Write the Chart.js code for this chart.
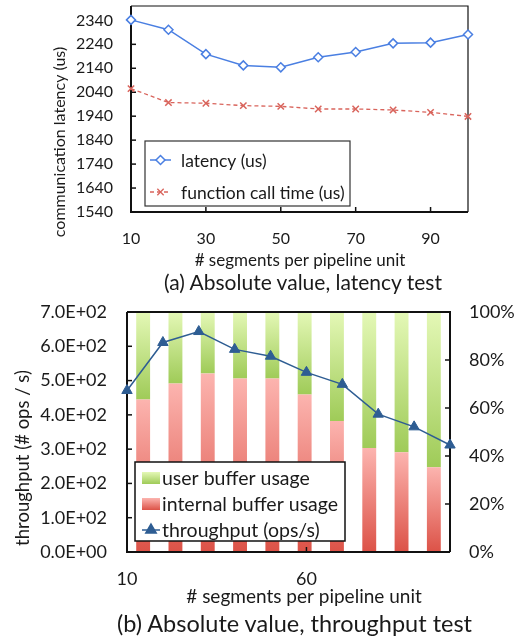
<!DOCTYPE html>
<html>
<head>
<meta charset="utf-8">
<script src="https://cdn.jsdelivr.net/npm/chart.js@4.4.1/dist/chart.umd.min.js"></script>
<style>
  body { margin: 0; width: 523px; height: 636px; position: relative; background: #fff; overflow: hidden;
         font-family: Lato, sans-serif; color: #1a1a1a; }
  .box { position: absolute; left: 0; width: 523px; }
  .cap { position: absolute; left: 0; text-align: center; white-space: nowrap; line-height: 24px; }
</style>
</head>
<body>
<div class="box" style="top:0;height:270px"><canvas id="latencyChart" width="523" height="270"></canvas></div>
<div class="cap" style="top:270px;width:606px;font-size:21px">(a) Absolute value, latency test</div>
<div class="box" style="top:292px;height:314px"><canvas id="throughputChart" width="523" height="314"></canvas></div>
<div class="cap" style="top:611px;width:589px;font-size:23.5px">(b) Absolute value, throughput test</div>

<script>
// (a) latency test
const segments = [10, 20, 30, 40, 50, 60, 70, 80, 90, 100];
const latency = [2342, 2301, 2199, 2152, 2144, 2186, 2208, 2244, 2247, 2281];
const callTime = [2055, 1997, 1994, 1984, 1981, 1970, 1970, 1966, 1956, 1939];
const latencyTicks = [1540, 1640, 1740, 1840, 1940, 2040, 2140, 2240, 2340];
const segTicksA = [10, 30, 50, 70, 90];

// (b) throughput test
const throughput = [471, 611, 643, 591, 571, 524, 489, 402, 365, 312];
const internalPct = [63.5, 70.2, 74.4, 72.3, 72.3, 65.6, 54.6, 43.3, 41.6, 35.3];
const userPct = [36.5, 29.8, 25.6, 27.7, 27.7, 34.4, 45.4, 56.7, 58.4, 64.7];
const segTicksB = [10, 60];

Chart.defaults.font.family = "Lato, sans-serif";
Chart.defaults.color = "#1a1a1a";
Chart.defaults.animation = false;

const ink = "#1a1a1a";
const green = ["#e4f8b6", "#9fcb58"];
const red = ["#fcb4af", "#dc5247"];
const noGrid = { display: false, drawTicks: false };

//turn a number into 7.0E+02 style
const sci = (v) => {
  const parts = v.toExponential(1).split("e");
  const n = Math.abs(parseInt(parts[1]));
  return parts[0] + "E" + (parts[1][0] === "-" ? "-" : "+") + String(n).padStart(2, "0");
};

const setTicks = (list) => (scale) => {
  scale.ticks = list.map((v) => ({ value: v }));
};

// fixed axis size, and no extra room for half labels
const fixSize = (size) => (s) => {
  if (s.isHorizontal()) s.height = size;
  else s.width = size;
  s.paddingTop = 0;
  s.paddingBottom = 0;
  s.paddingLeft = 0;
  s.paddingRight = 0;
};

// frame round the plot + short inward tick marks
const framePlugin = {
  id: "frame",
  beforeDatasetsDraw(chart) {
    chart.$frameDone = false;
  },
  beforeDatasetDraw(chart, args, o) {
    if (chart.$frameDone || args.meta.type !== "line") return;
    chart.$frameDone = true;
    const { ctx, chartArea: a } = chart;
    ctx.save();
    ctx.strokeStyle = o.color;
    ctx.lineWidth = o.edgeWidth;
    ctx.beginPath();
    ctx.moveTo(a.left, a.top);
    ctx.lineTo(a.right, a.top);
    ctx.lineTo(a.right, a.bottom);
    ctx.stroke();
    ctx.lineWidth = o.axisWidth;
    ctx.beginPath();
    ctx.moveTo(a.left, a.top);
    ctx.lineTo(a.left, a.bottom);
    ctx.lineTo(a.right, a.bottom);
    ctx.stroke();
    ctx.lineWidth = 1.5;
    o.ticks.forEach((id) => {
      const s = chart.scales[id];
      s.ticks.forEach((t) => {
        const p = s.getPixelForValue(t.value);
        ctx.beginPath();
        if (s.position === "left") {
          ctx.moveTo(a.left, p);
          ctx.lineTo(a.left + o.len, p);
        } else if (s.position === "right") {
          ctx.moveTo(a.right, p);
          ctx.lineTo(a.right - o.len, p);
        } else {
          ctx.moveTo(p, a.bottom);
          ctx.lineTo(p, a.bottom - o.len);
        }
        ctx.stroke();
      });
    });
    ctx.restore();
  },
};

// axis titles placed by hand
const textPlugin = {
  id: "axisText",
  afterDraw(chart, args, o) {
    const ctx = chart.ctx;
    o.items.forEach((t) => {
      ctx.save();
      ctx.font = t.font;
      ctx.fillStyle = ink;
      ctx.textAlign = "center";
      ctx.textBaseline = "middle";
      ctx.translate(t.x, t.y);
      if (t.rotate) ctx.rotate(-Math.PI / 2);
      ctx.fillText(t.text, 0, 0);
      ctx.restore();
    });
  },
};

// legend box inside the plot
const legendPlugin = {
  id: "boxLegend",
  afterDraw(chart, args, o) {
    const ctx = chart.ctx;
    ctx.save();
    ctx.fillStyle = "#fff";
    ctx.fillRect(o.x, o.y, o.w, o.h);
    ctx.strokeStyle = o.border;
    ctx.lineWidth = o.borderWidth;
    ctx.strokeRect(o.x, o.y, o.w, o.h);
    o.items.forEach((it, k) => {
      const ds = chart.data.datasets[it.index];
      const cy = o.y + o.first + k * o.gap;
      if (it.kind === "line") {
        ctx.strokeStyle = ds.borderColor;
        ctx.lineWidth = ds.borderWidth;
        ctx.setLineDash(ds.borderDash || []);
        ctx.beginPath();
        ctx.moveTo(o.x + o.s0, cy);
        ctx.lineTo(o.x + o.s1, cy);
        ctx.stroke();
        ctx.setLineDash([]);
        ctx.fillStyle = ds.pointBackgroundColor;
        ctx.strokeStyle = ds.pointBorderColor;
        Chart.helpers.drawPoint(ctx, {
          pointStyle: ds.pointStyle,
          radius: ds.pointRadius,
          borderWidth: ds.pointBorderWidth,
          rotation: 0,
        }, o.x + (o.s0 + o.s1) / 2, cy);
      } else {
        const g = ctx.createLinearGradient(0, cy - 6, 0, cy + 6);
        g.addColorStop(0, it.colors[0]);
        g.addColorStop(1, it.colors[1]);
        ctx.fillStyle = g;
        ctx.fillRect(o.x + o.s0, cy - 6, o.s1 - o.s0, 12);
      }
      ctx.fillStyle = ink;
      ctx.font = o.font;
      ctx.textBaseline = "middle";
      ctx.fillText(ds.label, o.x + o.tx, cy + 1);
    });
    ctx.restore();
  },
};

// per segment gradient for the stacked bars
const barFill = (colors, bottom) => (c) => {
  const chart = c.chart;
  const s = chart.scales.yPct;
  if (c.type !== "data" || !s) return colors[1];
  const i = c.dataIndex;
  const lo = bottom ? 0 : internalPct[i];
  const hi = bottom ? internalPct[i] : 100;
  const y0 = s.getPixelForValue(hi);
  const y1 = s.getPixelForValue(lo);
  if (!isFinite(y0) || !isFinite(y1) || y0 === y1) return colors[1];
  const g = chart.ctx.createLinearGradient(0, y0, 0, y1);
  g.addColorStop(0, colors[0]);
  g.addColorStop(1, colors[1]);
  return g;
};

new Chart("latencyChart", {
  type: "line",
  data: {
    datasets: [
      {
        label: "latency (us)",
        data: segments.map((x, i) => ({ x: x, y: latency[i] })),
        borderColor: "#4a7fe2",
        borderWidth: 1.5,
        pointStyle: "rectRot",
        pointRadius: 4.5,
        pointBackgroundColor: "#ffffff",
        pointBorderColor: "#4a7fe2",
        pointBorderWidth: 1.5,
        clip: false,
      },
      {
        label: "function call time (us)",
        data: segments.map((x, i) => ({ x: x, y: callTime[i] })),
        borderColor: "#d9645c",
        borderWidth: 1.3,
        borderDash: [4, 3],
        pointStyle: "crossRot",
        pointRadius: 4.5,
        pointBackgroundColor: "#d9645c",
        pointBorderColor: "#d9645c",
        pointBorderWidth: 1.5,
        clip: false,
      },
    ],
  },
  options: {
    responsive: false,
    layout: { padding: { left: 0, right: 55, top: 3, bottom: 0 } },
    scales: {
      x: {
        type: "linear",
        min: 10,
        max: 100,
        afterBuildTicks: setTicks(segTicksA),
        afterFit: fixSize(58),
        grid: noGrid,
        border: { display: false },
        ticks: { font: { size: 16 }, padding: 17, maxRotation: 0 },
      },
      y: {
        min: 1540,
        max: 2400,
        afterBuildTicks: setTicks(latencyTicks),
        afterFit: fixSize(131),
        grid: noGrid,
        border: { display: false },
        ticks: { font: { size: 16 }, padding: 18, callback: (v) => String(v) },
      },
    },
    plugins: {
      legend: { display: false },
      tooltip: { enabled: false },
      frame: { color: "#111", axisWidth: 2, edgeWidth: 1.2, len: 5, ticks: ["x", "y"] },
      axisText: {
        items: [
          { text: "communication latency (us)", x: 60, y: 142, rotate: true, font: "16px Lato" },
          { text: "# segments per pipeline unit", x: 300, y: 261, font: "17px Lato" },
        ],
      },
      boxLegend: {
        x: 145, y: 141, w: 205, h: 65, border: "#333", borderWidth: 1.2,
        first: 19, gap: 32, s0: 5, s1: 26, tx: 36, font: "17.5px Lato",
        items: [{ index: 0, kind: "line" }, { index: 1, kind: "line" }],
      },
    },
  },
  plugins: [framePlugin, textPlugin, legendPlugin],
});

new Chart("throughputChart", {
  data: {
    labels: segments,
    datasets: [
      {
        type: "bar",
        label: "internal buffer usage",
        data: internalPct,
        xAxisID: "xBar",
        yAxisID: "yPct",
        stack: "usage",
        grouped: false,
        backgroundColor: barFill(red, true),
        barPercentage: 0.43,
        categoryPercentage: 1,
        order: 2,
      },
      {
        type: "bar",
        label: "user buffer usage",
        data: userPct,
        xAxisID: "xBar",
        yAxisID: "yPct",
        stack: "usage",
        grouped: false,
        backgroundColor: barFill(green, false),
        barPercentage: 0.43,
        categoryPercentage: 1,
        order: 2,
      },
      {
        type: "line",
        label: "throughput (ops/s)",
        data: segments.map((x, i) => ({ x: x, y: throughput[i] })),
        xAxisID: "x",
        yAxisID: "y",
        borderColor: "#2e5d93",
        borderWidth: 1.5,
        pointStyle: "triangle",
        pointRadius: 6,
        pointBackgroundColor: "#2e5d93",
        pointBorderColor: "#2e5d93",
        pointBorderWidth: 1,
        clip: false,
        order: 1,
      },
    ],
  },
  options: {
    responsive: false,
    layout: { padding: { left: 0, right: 0, top: 20, bottom: 0 } },
    scales: {
      x: {
        type: "linear",
        position: "bottom",
        min: 10,
        max: 100,
        afterBuildTicks: setTicks(segTicksB),
        afterFit: fixSize(54),
        grid: noGrid,
        border: { display: false },
        ticks: { font: { size: 18 }, padding: 16, maxRotation: 0 },
      },
      xBar: {
        type: "category",
        display: false,
        offset: true,
        stacked: true,
        grid: noGrid,
      },
      y: {
        position: "left",
        min: 0,
        max: 700,
        ticks: { stepSize: 100, font: { size: 18 }, padding: 20, callback: (v) => sci(v) },
        afterFit: fixSize(127),
        grid: noGrid,
        border: { display: false },
      },
      yPct: {
        position: "right",
        min: 0,
        max: 100,
        stacked: true,
        ticks: { stepSize: 20, font: { size: 18 }, padding: 19, callback: (v) => v + "%" },
        afterFit: fixSize(73),
        grid: noGrid,
        border: { display: false },
      },
    },
    plugins: {
      legend: { display: false },
      tooltip: { enabled: false },
      frame: { color: "#111", axisWidth: 2, edgeWidth: 2, len: 5, ticks: ["x", "y", "yPct"] },
      axisText: {
        items: [
          { text: "throughput (# ops / s)", x: 23, y: 166, rotate: true, font: "18.5px Lato" },
          { text: "# segments per pipeline unit", x: 304, y: 305, font: "19px Lato" },
        ],
      },
      boxLegend: {
        x: 135, y: 170, w: 210, h: 79, border: "#111", borderWidth: 1.5,
        first: 16, gap: 26, s0: 7, s1: 25, tx: 27, font: "19.5px Lato",
        items: [
          { index: 1, kind: "box", colors: green },
          { index: 0, kind: "box", colors: red },
          { index: 2, kind: "line" },
        ],
      },
    },
  },
  plugins: [framePlugin, textPlugin, legendPlugin],
});
</script>
</body>
</html>
